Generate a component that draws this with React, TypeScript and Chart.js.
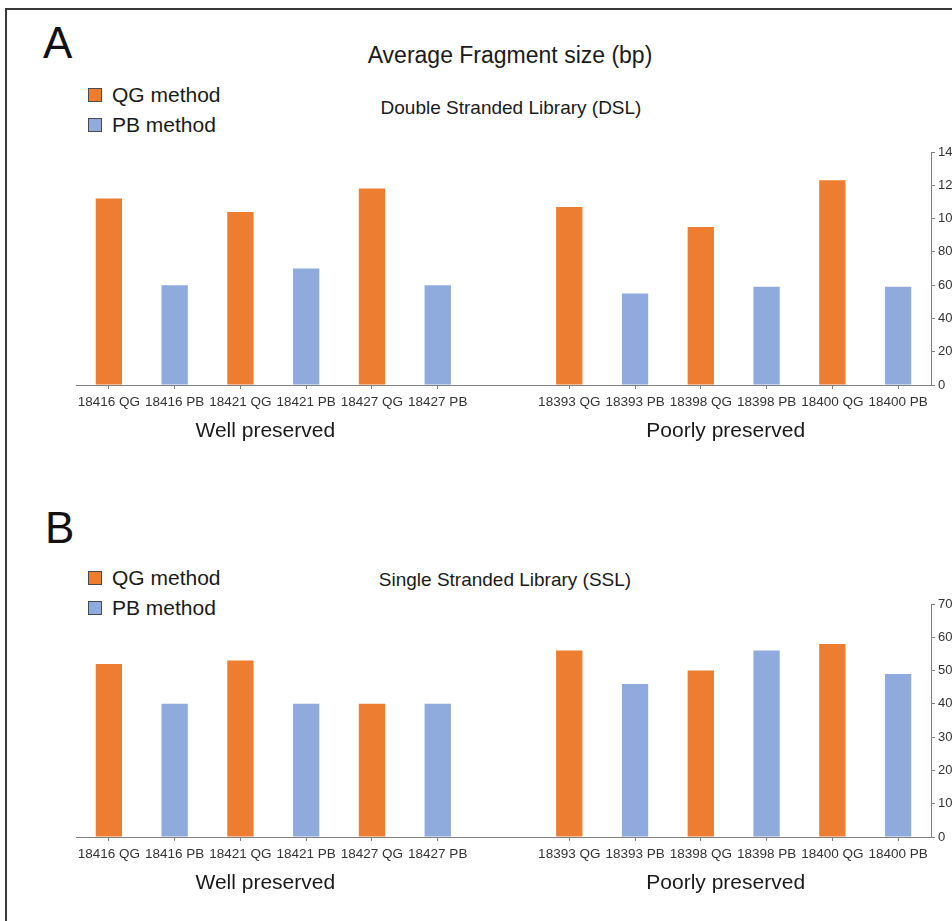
import React, { useEffect, useRef } from "react";
import { Chart, registerables } from "chart.js";
Chart.register(...registerables);

const categories = [
  "18416 QG", "18416 PB", "18421 QG", "18421 PB", "18427 QG", "18427 PB",
  "",
  "18393 QG", "18393 PB", "18398 QG", "18398 PB", "18400 QG", "18400 PB",
];
const dslValues = [112, 60, 104, 70, 118, 60, null, 107, 55, 95, 59, 123, 59];
const sslValues = [52, 40, 53, 40, 40, 40, null, 56, 46, 50, 56, 58, 49];
const groupLabels = ["Well preserved", "Poorly preserved"];
const groupRanges = [[0, 5], [7, 12]];
const seriesNames = ["QG method", "PB method"];
const seriesColors = ["#ED7D31", "#8FAADC"];
const dslAxis = { max: 140, step: 20 };
const sslAxis = { max: 70, step: 10 };

const FONT = '"Liberation Sans", Arial, sans-serif';
const AXIS_COLOR = "#808080";

const groupLabelPlugin = {
  id: "groupLabels",
  afterDraw(chart: any) {
    const x = chart.scales.x;
    const ctx = chart.ctx;
    ctx.save();
    ctx.font = `21px ${FONT}`;
    ctx.fillStyle = "#1a1a1a";
    ctx.textAlign = "center";
    ctx.textBaseline = "middle";
    groupRanges.forEach(([a, b], i) => {
      const cx = (x.getPixelForValue(a) + x.getPixelForValue(b)) / 2 - 8;
      ctx.fillText(groupLabels[i], cx, chart.chartArea.bottom + 46);
    });
    ctx.restore();
  },
};

function BarPanel({ values, axis, top }: { values: (number | null)[]; axis: { max: number; step: number }; top: number }) {
  const ref = useRef<HTMLCanvasElement>(null);
  useEffect(() => {
    const canvas = ref.current!;
    const tickCol = (c: any) => (categories[c.index] === "" ? "rgba(0,0,0,0)" : AXIS_COLOR);
    const chart = new Chart(canvas, {
      type: "bar",
      data: {
        labels: categories,
        datasets: [
          {
            data: values as any,
            backgroundColor: categories.map((c) => (c.includes("QG") ? seriesColors[0] : seriesColors[1])),
            borderWidth: 0,
            barPercentage: 0.4,
            categoryPercentage: 1,
          },
        ],
      },
      options: {
        responsive: false,
        animation: false,
        events: [],
        layout: { padding: { left: 76, top: 12, right: 0, bottom: 5 } },
        plugins: { legend: { display: false }, tooltip: { enabled: false }, title: { display: false } },
        scales: {
          x: {
            offset: true,
            afterFit: (s: any) => { s.height = 60; },
            grid: { offset: false, drawOnChartArea: false, drawTicks: true, tickLength: 4, color: tickCol, tickColor: tickCol },
            border: { display: true, color: AXIS_COLOR, width: 1 },
            ticks: { font: { family: FONT, size: 13.5 }, color: "#333", maxRotation: 0, autoSkip: false, padding: 5 },
          },
          y: {
            position: "right",
            min: 0,
            max: axis.max,
            afterFit: (s: any) => { s.width = 21; },
            grid: { drawOnChartArea: false, drawTicks: true, tickLength: 4, color: AXIS_COLOR },
            border: { display: true, color: AXIS_COLOR, width: 1 },
            ticks: { stepSize: axis.step, font: { family: FONT, size: 13 }, color: "#333", padding: 3 },
          },
        },
      },
      plugins: [groupLabelPlugin],
    });
    return () => chart.destroy();
  }, [values, axis]);
  return (
    <canvas ref={ref} width={952} height={310} style={{ position: "absolute", left: 0, top, width: 952, height: 310 }} />
  );
}

function Legend({ top }: { top: number }) {
  return (
    <>
      {seriesNames.map((name, i) => (
        <div key={name} style={{ position: "absolute", left: 88, top: top + i * 30 - 12, height: 24, display: "flex", alignItems: "center" }}>
          <div style={{ width: 14, height: 14, background: seriesColors[i], border: "1px solid #4a4a4a", boxSizing: "border-box" }} />
          <span style={{ marginLeft: 10, fontSize: 21, fontFamily: FONT, color: "#1a1a1a", lineHeight: "24px" }}>{name}</span>
        </div>
      ))}
    </>
  );
}

function CenterText({ text, cx, cy, size }: { text: string; cx: number; cy: number; size: number }) {
  return (
    <div style={{ position: "absolute", left: cx - 300, top: cy - 15, width: 600, height: 30, textAlign: "center", lineHeight: "30px", fontSize: size, fontFamily: FONT, color: "#1a1a1a", whiteSpace: "nowrap" }}>
      {text}
    </div>
  );
}

export default function App() {
  return (
    <div style={{ position: "absolute", left: 0, top: 0, width: 952, height: 921, overflow: "hidden", background: "#fff" }}>
      <div style={{ position: "absolute", left: 5, top: 8, width: 2, height: 913, background: "#3a3a3a" }} />
      <div style={{ position: "absolute", left: 5, top: 8, width: 947, height: 2, background: "#3a3a3a" }} />
      <div style={{ position: "absolute", left: 43, top: 18, fontSize: 44, fontFamily: FONT, color: "#111", lineHeight: "50px" }}>A</div>
      <CenterText text="Average Fragment size (bp)" cx={510} cy={55} size={23} />
      <CenterText text="Double Stranded Library (DSL)" cx={511} cy={108} size={19} />
      <Legend top={95} />
      <BarPanel values={dslValues} axis={dslAxis} top={140} />
      <div style={{ position: "absolute", left: 45, top: 503, fontSize: 44, fontFamily: FONT, color: "#111", lineHeight: "50px" }}>B</div>
      <CenterText text="Single Stranded Library (SSL)" cx={505} cy={580} size={19} />
      <Legend top={578} />
      <BarPanel values={sslValues} axis={sslAxis} top={592} />
    </div>
  );
}
